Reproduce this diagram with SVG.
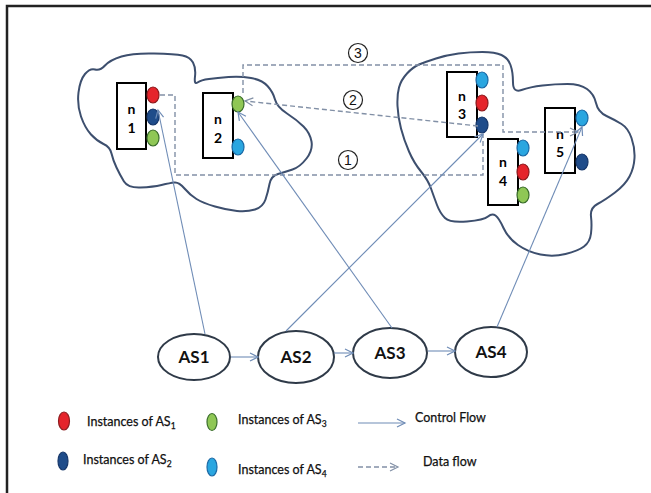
<svg xmlns="http://www.w3.org/2000/svg" width="651" height="493" viewBox="0 0 651 493">
<defs>
<style>
.cloud{fill:none;stroke:#3d4f6e;stroke-width:2;stroke-linejoin:round}
.box{fill:#fff;stroke:#000;stroke-width:2}
.nl{font-family:Lato,"Liberation Sans",sans-serif;font-weight:bold;font-size:14px;fill:#000;text-anchor:middle}
.r{fill:#e5242b;stroke:#8e1c1f;stroke-width:1.2}
.db{fill:#1f4c8a;stroke:#17376a;stroke-width:1.2}
.g{fill:#8fc755;stroke:#3b6e2c;stroke-width:1.2}
.lb{fill:#2aa6e0;stroke:#1c6aa6;stroke-width:1.2}
.ctl{fill:none;stroke:#6f8cb6;stroke-width:1.1}
.dat{fill:none;stroke:#8290a6;stroke-width:1.4;stroke-dasharray:5,3}
.as{fill:#fff;stroke:#2f3a48;stroke-width:2}
.asl{font-family:Lato,"Liberation Sans",sans-serif;font-weight:bold;font-size:17px;fill:#111;text-anchor:middle}
.num{fill:#fff;stroke:#222;stroke-width:1.2}
.numt{font-family:"Liberation Sans",sans-serif;font-size:14px;fill:#111;text-anchor:middle}
.lg{font-family:Lato,"Liberation Sans",sans-serif;font-size:12.5px;fill:#111;stroke:#111;stroke-width:0.25}
</style>
<marker id="ac" markerUnits="userSpaceOnUse" markerWidth="10" markerHeight="10" refX="8" refY="4" orient="auto" overflow="visible">
<path d="M0,0 L8,4 L0,8" fill="none" stroke="#6f8cb6" stroke-width="1.2"/>
</marker>
<marker id="ad" markerUnits="userSpaceOnUse" markerWidth="10" markerHeight="10" refX="8" refY="4" orient="auto" overflow="visible">
<path d="M0,0 L8,4 L0,8" fill="none" stroke="#8290a6" stroke-width="1.2"/>
</marker>
</defs>
<rect width="651" height="493" fill="#fff"/>
<path d="M7,493 V6 H651" fill="none" stroke="#222" stroke-width="2.5"/>

<g id="clouds">
<path class="cloud" d="M78.5,92.5 Q80,80 85,74 Q90,68 95,69.5 Q100,71 105,65.5 Q110,60 121.5,56.5 Q133,53 154,53.5 Q175,54 182.5,55.5 Q190,57 193,62.5 Q196,68 195,76.5 Q194,85 197.5,82.5 Q201,80 209,79 Q217,78 228.5,77 Q240,76 251,78 Q262,80 267.5,86 Q273,92 275,99.5 Q277,107 287,113.5 Q297,120 303.5,126.5 Q310,133 311.5,141.5 Q313,150 306.5,158.5 Q300,167 292.5,169.5 Q285,172 278,174 Q271,176 269.5,184 Q268,192 265.5,199.5 Q263,207 255,209.5 Q247,212 237,211 Q227,210 215,206.5 Q203,203 196.5,199 Q190,195 184.5,188.5 Q179,182 174.5,182.5 Q170,183 161.5,185 Q153,187 140.5,187.5 Q128,188 124,181.5 Q120,175 116.5,167.5 Q113,160 111.5,153.5 Q110,147 103.5,144 Q97,141 91,134.5 Q85,128 81,116.5 Q77,105 78.5,92.5 Z"/>
<path class="cloud" d="M397.5,106 Q397,95 399,87.5 Q401,80 407,73.5 Q413,67 419,64.5 Q425,62 436,58.5 Q447,55 458.5,53.5 Q470,52 482.5,52 Q495,52 501.5,55 Q508,58 510.5,65 Q513,72 513,82.5 Q513,93 521.5,90 Q530,87 542.5,85.5 Q555,84 567.5,84 Q580,84 587,89 Q594,94 596,103 Q598,112 606.5,116 Q615,120 621.5,124 Q628,128 631.5,138 Q635,148 634.5,158 Q634,168 629.5,176.5 Q625,185 615,192.5 Q605,200 597.5,204 Q590,208 591,216.5 Q592,225 591,233.5 Q590,242 584,246.5 Q578,251 565.5,254 Q553,257 540.5,254.5 Q528,252 518,245 Q508,238 503.5,228 Q499,218 495.5,215.5 Q492,213 488,216.5 Q484,220 467,221.5 Q450,223 445,218 Q440,213 437,205 Q434,197 431,188.5 Q428,180 421,171.5 Q414,163 409,151.5 Q404,140 401,128.5 Q398,117 397.5,106 Z"/>
</g>

<g id="n1">
<rect class="box" x="117" y="83" width="29" height="66"/>
<text class="nl" x="131.5" y="114">n</text>
<text class="nl" x="131.5" y="133">1</text>
<ellipse class="r" cx="153" cy="95" rx="6" ry="8"/>
<ellipse class="db" cx="153" cy="117" rx="6" ry="8"/>
<ellipse class="g" cx="153" cy="138" rx="6" ry="8"/>
</g>
<g id="n2">
<rect class="box" x="203" y="93" width="30" height="65"/>
<text class="nl" x="218" y="124">n</text>
<text class="nl" x="218" y="143">2</text>
<ellipse class="g" cx="238" cy="104" rx="6" ry="8"/>
<ellipse class="lb" cx="238" cy="147" rx="6" ry="8"/>
</g>
<g id="n3">
<rect class="box" x="447" y="72" width="30" height="65"/>
<text class="nl" x="462" y="101">n</text>
<text class="nl" x="462" y="119">3</text>
<ellipse class="lb" cx="482" cy="80" rx="6" ry="8"/>
<ellipse class="r" cx="482" cy="103" rx="6" ry="8"/>
<ellipse class="db" cx="482" cy="125" rx="6" ry="8"/>
</g>
<g id="n4">
<rect class="box" x="488" y="139" width="30" height="66"/>
<text class="nl" x="503" y="167">n</text>
<text class="nl" x="503" y="186">4</text>
<ellipse class="lb" cx="523" cy="148" rx="6" ry="8"/>
<ellipse class="r" cx="523" cy="172" rx="6" ry="8"/>
<ellipse class="g" cx="523" cy="195" rx="6" ry="8"/>
</g>
<g id="n5">
<rect class="box" x="545" y="108" width="30" height="65"/>
<text class="nl" x="560" y="139">n</text>
<text class="nl" x="560" y="157">5</text>
<ellipse class="lb" cx="582" cy="118" rx="6" ry="8"/>
<ellipse class="db" cx="582" cy="162" rx="6" ry="8"/>
</g>

<g id="AS1"><ellipse class="as" cx="194" cy="357" rx="36" ry="23"/><text class="asl" x="194" y="363">AS1</text></g>
<g id="AS2"><ellipse class="as" cx="296" cy="357" rx="38" ry="26"/><text class="asl" x="296" y="363">AS2</text></g>
<g id="AS3"><ellipse class="as" cx="390" cy="353" rx="37" ry="25"/><text class="asl" x="390" y="359">AS3</text></g>
<g id="AS4"><ellipse class="as" cx="491" cy="352" rx="36" ry="25"/><text class="asl" x="491" y="358">AS4</text></g>

<g id="connectors">
<path class="dat" d="M160,95 H175 V175 H483 V134"/>
<path class="dat" d="M243,93 V65 H503 V132 H578" marker-end="url(#ad)"/>
<path class="dat" d="M478,126 L245,101" marker-end="url(#ad)"/>
<line class="ctl" x1="205" y1="334" x2="158" y2="110" marker-end="url(#ac)"/>
<line class="ctl" x1="392" y1="328" x2="238" y2="112" marker-end="url(#ac)"/>
<line class="ctl" x1="286" y1="331" x2="483" y2="134" marker-end="url(#ac)"/>
<line class="ctl" x1="497" y1="327" x2="582" y2="127" marker-end="url(#ac)"/>
<line class="ctl" x1="231" y1="357" x2="258" y2="357" marker-end="url(#ac)"/>
<line class="ctl" x1="334" y1="353" x2="353" y2="353" marker-end="url(#ac)"/>
<line class="ctl" x1="428" y1="351" x2="455" y2="351" marker-end="url(#ac)"/>
</g>

<g id="labels">
<circle class="num" cx="358" cy="53" r="9.5"/><text class="numt" x="358" y="58">3</text>
<circle class="num" cx="353" cy="100" r="9.5"/><text class="numt" x="353" y="105">2</text>
<circle class="num" cx="348" cy="160" r="9.5"/><text class="numt" x="348" y="165">1</text>
</g>

<g id="legend">
<ellipse class="r" cx="64" cy="421" rx="5.5" ry="9"/>
<text class="lg" x="87" y="426">Instances of AS<tspan font-size="8.5" dy="3">1</tspan></text>
<ellipse class="db" cx="63" cy="461" rx="5" ry="9"/>
<text class="lg" x="83" y="464">Instances of AS<tspan font-size="8.5" dy="3">2</tspan></text>
<ellipse class="g" cx="212" cy="422" rx="5" ry="8.5"/>
<text class="lg" x="238" y="424">Instances of AS<tspan font-size="8.5" dy="3">3</tspan></text>
<ellipse class="lb" cx="212" cy="467" rx="5" ry="9"/>
<text class="lg" x="238" y="474">Instances of AS<tspan font-size="8.5" dy="3">4</tspan></text>
<line class="ctl" x1="358" y1="423" x2="405" y2="423" marker-end="url(#ac)"/>
<text class="lg" x="415" y="422">Control Flow</text>
<path class="dat" d="M358,467 H398" marker-end="url(#ad)"/>
<text class="lg" x="423" y="466">Data flow</text>
</g>
</svg>
